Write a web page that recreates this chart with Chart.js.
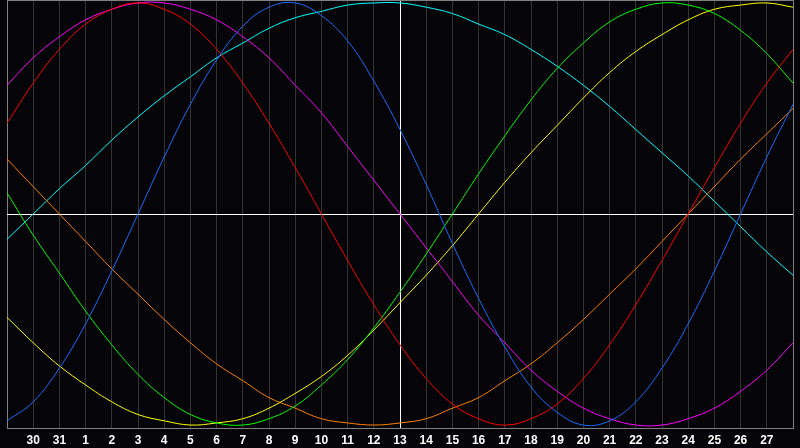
<!DOCTYPE html>
<html lang="en">
<head>
    <meta charset="UTF-8">
    <title>Biorhythm</title>
    <script src="https://cdn.jsdelivr.net/npm/chart.js"></script>
    <style>
        body {
            margin: 0;
            background: #050408;
        }
        #wrap {
            width: 800px;
            height: 448px;
        }
    </style>
</head>
<body>
    <div id="wrap"><canvas id="bioChart"></canvas></div>

    <script>
        // Day labels (previous month 29..31, then 1..28); edge days carry no label
        const days = ['29', '30', '31', '1', '2', '3', '4', '5', '6', '7', '8', '9', '10', '11', '12',
            '13', '14', '15', '16', '17', '18', '19', '20', '21', '22', '23', '24', '25', '26', '27', '28'];
        const todayIndex = 15;

        // Cycle values, one per day (-1 .. 1)
        const physical = [-0.98, -0.89, -0.73, -0.52, -0.27, 0, 0.27, 0.52, 0.73, 0.89, 0.98, 1.00, 0.94, 0.82, 0.63,
            0.40, 0.14, -0.14, -0.40, -0.63, -0.82, -0.94, -1.00, -0.98, -0.89, -0.73, -0.52, -0.27, 0, 0.27, 0.52];
        const emotional = [0.43, 0.62, 0.78, 0.90, 0.97, 1.00, 0.97, 0.90, 0.78, 0.62, 0.43, 0.22, 0, -0.22, -0.43,
            -0.62, -0.78, -0.90, -0.97, -1.00, -0.97, -0.90, -0.78, -0.62, -0.43, -0.22, 0, 0.22, 0.43, 0.62, 0.78];
        const intellectual = [0.10, -0.10, -0.28, -0.46, -0.62, -0.76, -0.87, -0.95, -0.99, -1.00, -0.97, -0.91, -0.81, -0.69, -0.54,
            -0.37, -0.19, 0, 0.19, 0.37, 0.54, 0.69, 0.81, 0.91, 0.97, 1.00, 0.99, 0.95, 0.87, 0.76, 0.62];
        const intuitive = [0.61, 0.74, 0.84, 0.92, 0.97, 1.00, 1.00, 0.97, 0.92, 0.84, 0.74, 0.61, 0.48, 0.32, 0.16,
            0, -0.16, -0.32, -0.48, -0.61, -0.74, -0.84, -0.92, -0.97, -1.00, -1.00, -0.97, -0.92, -0.84, -0.74, -0.61];
        const aesthetic = [-0.49, -0.61, -0.72, -0.81, -0.89, -0.95, -0.98, -1.00, -0.99, -0.97, -0.92, -0.85, -0.77, -0.67, -0.55,
            -0.42, -0.29, -0.15, 0, 0.15, 0.29, 0.42, 0.55, 0.67, 0.77, 0.85, 0.92, 0.97, 0.99, 1.00, 0.98];
        const awareness = [0.26, 0.13, 0, -0.13, -0.26, -0.38, -0.50, -0.61, -0.71, -0.79, -0.87, -0.92, -0.97, -0.99, -1.00,
            -0.99, -0.97, -0.92, -0.87, -0.79, -0.71, -0.61, -0.50, -0.38, -0.26, -0.13, 0, 0.13, 0.26, 0.38, 0.50];
        const spiritual = [-0.12, 0, 0.12, 0.23, 0.35, 0.46, 0.56, 0.65, 0.74, 0.81, 0.88, 0.93, 0.96, 0.99, 1.00,
            1.00, 0.98, 0.95, 0.90, 0.85, 0.78, 0.70, 0.61, 0.51, 0.40, 0.29, 0.18, 0.06, -0.06, -0.18, -0.29];

        const yLimit = 1.014;

        function serie(dati, colore) {
            return {
                data: dati,
                borderColor: colore,
                borderWidth: 1,
                pointRadius: 0,
                pointHoverRadius: 0,
                tension: 0.4,
                fill: false
            };
        }

        new Chart(document.getElementById('bioChart'), {
            type: 'line',
            data: {
                labels: days,
                datasets: [
                    serie(physical, '#1a6cff'),
                    serie(emotional, '#ff0000'),
                    serie(intellectual, '#00ff00'),
                    serie(intuitive, '#ff00ff'),
                    serie(aesthetic, '#ffff00'),
                    serie(awareness, '#ff8000'),
                    serie(spiritual, '#00ffff')
                ]
            },
            options: {
                responsive: true,
                maintainAspectRatio: false,
                animation: false,
                events: [],
                layout: { autoPadding: false, padding: { left: 0, right: 1, top: 0, bottom: 0 } },
                plugins: {
                    legend: { display: false },
                    tooltip: { enabled: false }
                },
                scales: {
                    x: {
                        afterFit: (scale) => { scale.height = 20; },
                        grid: {
                            drawTicks: false,
                            color: (ctx) => {
                                if (ctx.index === todayIndex) return '#ffffff';
                                if (ctx.index === 0 || ctx.index === days.length - 1) return '#808080';
                                return '#333333';
                            }
                        },
                        border: { color: '#808080', width: 1 },
                        ticks: {
                            autoSkip: false,
                            maxRotation: 0,
                            padding: 7,
                            color: '#ffffff',
                            font: { family: 'Liberation Sans', size: 12, weight: 'bold', lineHeight: 1.0 },
                            callback: (v, i) => (i === 0 || i === days.length - 1) ? '' : days[i]
                        }
                    },
                    y: {
                        min: -yLimit,
                        max: yLimit,
                        afterBuildTicks: (scale) => {
                            scale.ticks = [{ value: -yLimit }, { value: 0 }, { value: yLimit }];
                        },
                        grid: {
                            drawTicks: false,
                            color: (ctx) => {
                                if (ctx.tick.value === 0) return '#ffffff';
                                if (ctx.tick.value === yLimit) return '#808080';
                                return 'rgba(0,0,0,0)';
                            }
                        },
                        border: { display: false },
                        ticks: { display: false }
                    }
                }
            }
        });
    </script>
</body>
</html>
